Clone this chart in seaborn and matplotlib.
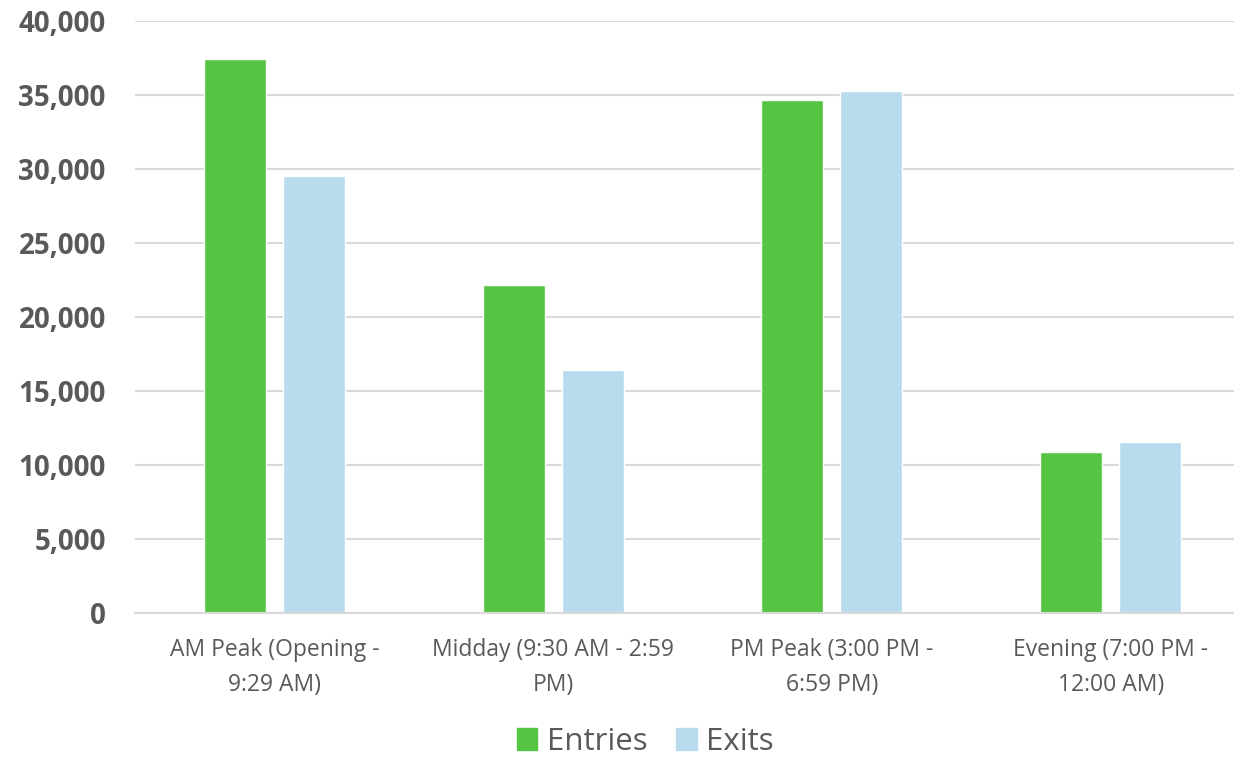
import matplotlib
matplotlib.use("Agg")
import matplotlib.pyplot as plt
import matplotlib.ticker as mticker
import seaborn as sns
import pandas as pd

periods = [
    "AM Peak (Opening -\n9:29 AM)",
    "Midday (9:30 AM - 2:59\nPM)",
    "PM Peak (3:00 PM -\n6:59 PM)",
    "Evening (7:00 PM -\n12:00 AM)",
]
entries = [37400, 22130, 34630, 10820]
exits = [29500, 16430, 35300, 11500]
series = ["Entries", "Exits"]
colors = ["#55C443", "#B8DBED"]
y_ticks = [0, 5000, 10000, 15000, 20000, 25000, 30000, 35000, 40000]

df = pd.DataFrame({
    "period": periods * 2,
    "riders": entries + exits,
    "direction": [series[0]] * len(periods) + [series[1]] * len(periods),
})

sns.set_theme(style="white")
plt.rcParams["font.family"] = ["Open Sans", "DejaVu Sans"]
text_color = "#595959"
grid_color = "#D9D9D9"

W, H = 1234, 761
fig = plt.figure(figsize=(W / 100, H / 100), dpi=100)
left, right, top, bottom = 135, 1250, 21, 612.5
ax = fig.add_axes([left / W, (H - bottom) / H, (right - left) / W, (bottom - top) / H])

sns.barplot(data=df, x="period", y="riders", hue="direction", hue_order=series,
            palette=colors, saturation=1, width=0.566, gap=0.215, ax=ax,
            legend=False, errorbar=None)

ax.set_xlim(-0.5, 3.5)
ax.set_ylim(0, 40000)
ax.set_yticks(y_ticks)
ax.yaxis.set_major_formatter(mticker.FuncFormatter(lambda v, p: f"{int(v):,}"))
ax.grid(axis="y", color=grid_color, linewidth=1.5)
ax.set_axisbelow(True)
for s in ["top", "right", "left"]:
    ax.spines[s].set_visible(False)
ax.spines["bottom"].set_color(grid_color)
ax.spines["bottom"].set_linewidth(1.5)
ax.tick_params(axis="both", length=0)
ax.tick_params(axis="y", pad=21, labelsize=20, labelcolor=text_color)
ax.tick_params(axis="x", pad=18.5, labelsize=16.5, labelcolor=text_color)
for lbl in ax.get_yticklabels():
    lbl.set_fontweight("bold")
for lbl in ax.get_xticklabels():
    lbl.set_linespacing(1.6)
ax.set_xlabel("")
ax.set_ylabel("")

handles = [plt.Rectangle((0, 0), 1, 1, color=c) for c in colors]
fig.legend(handles, series, loc="center", bbox_to_anchor=(645 / W, 1 - 742 / H),
           ncol=2, frameon=False, fontsize=22.5, handlelength=0.67, handleheight=0.67,
           handletextpad=0.3, columnspacing=0.9, labelcolor=text_color,
           borderpad=0.1)

fig.savefig("out.png", dpi=100)
